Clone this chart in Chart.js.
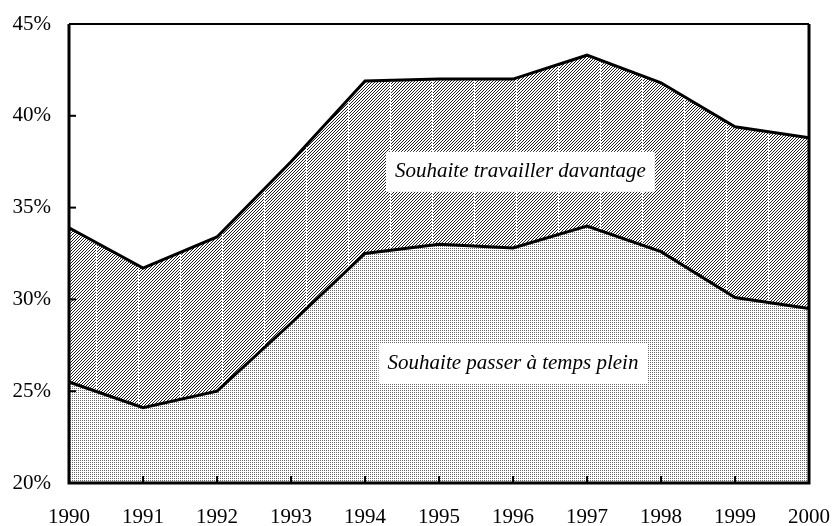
<!DOCTYPE html>
<html>
<head>
<meta charset="utf-8">
<script src="https://cdn.jsdelivr.net/npm/chart.js@4/dist/chart.umd.min.js"></script>
<style>
  html, body { margin: 0; padding: 0; background: #fff; }
  #wrap { width: 834px; height: 526px; position: relative; }
</style>
</head>
<body>
<div id="wrap"><canvas id="c"></canvas></div>
<script>
// Years on the x axis
const years = ['1990', '1991', '1992', '1993', '1994', '1995', '1996', '1997', '1998', '1999', '2000'];

// Lower band: wants to go full time (%)
const tempsPlein = [25.5, 24.1, 25.0, 28.7, 32.5, 33.0, 32.8, 34.0, 32.6, 30.1, 29.5];

// Upper line: total wanting to work more (%)
const davantage = [33.9, 31.7, 33.4, 37.5, 41.9, 42.0, 42.0, 43.3, 41.8, 39.4, 38.8];

const yTicks = [20, 25, 30, 35, 40, 45];

const labelHaut = 'Souhaite travailler davantage';
const labelBas = 'Souhaite passer à temps plein';

const serif = "'Liberation Serif', 'Times New Roman', serif";

// fill textures, drawn on small tiles
function makeHatch() {
    const t = document.createElement('canvas');
    t.width = 42; t.height = 3;
    const g = t.getContext('2d');
    g.fillStyle = '#fff';
    g.fillRect(0, 0, 42, 3);
    g.fillStyle = '#222';
    for (let x = 0; x < 42; x++) {
        for (let y = 0; y < 3; y++) {
            if ((x + y) % 3 === 0 && x !== 12) g.fillRect(x, y, 1, 1);
        }
    }
    return g.createPattern(t, 'repeat');
}

function makeDots() {
    const t = document.createElement('canvas');
    t.width = 2; t.height = 2;
    const g = t.getContext('2d');
    g.fillStyle = '#fff';
    g.fillRect(0, 0, 2, 2);
    g.fillStyle = '#6a6a6a';
    g.fillRect(0, 0, 1, 1);
    return g.createPattern(t, 'repeat');
}

// inward ticks, frame and the two text boxes
const framePlugin = {
    id: 'frame',
    afterDraw(chart) {
        const ctx = chart.ctx;
        const a = chart.chartArea;
        const xs = chart.scales.x;
        const ys = chart.scales.y;
        ctx.save();
        ctx.strokeStyle = '#000';
        ctx.lineWidth = 2;
        xs.ticks.forEach((t, i) => {
            const px = xs.getPixelForTick(i);
            ctx.beginPath();
            ctx.moveTo(px, a.bottom);
            ctx.lineTo(px, a.bottom - 7);
            ctx.stroke();
        });
        ys.ticks.forEach((t, i) => {
            const py = ys.getPixelForTick(i);
            ctx.beginPath();
            ctx.moveTo(a.left, py);
            ctx.lineTo(a.left + 7, py);
            ctx.stroke();
        });
        // frame
        ctx.lineWidth = 3;
        ctx.beginPath();
        ctx.moveTo(a.left, a.top);
        ctx.lineTo(a.left, a.bottom);
        ctx.lineTo(a.right, a.bottom);
        ctx.lineTo(a.right, a.top);
        ctx.stroke();
        ctx.lineWidth = 2;
        ctx.beginPath();
        ctx.moveTo(a.left, a.top);
        ctx.lineTo(a.right, a.top);
        ctx.stroke();

        // text boxes
        ctx.font = 'italic 21px ' + serif;
        ctx.textAlign = 'center';
        ctx.textBaseline = 'middle';
        const boxes = [
            { text: labelHaut, x: xs.getPixelForValue(6.1), y: ys.getPixelForValue(36.95) },
            { text: labelBas, x: xs.getPixelForValue(6.0), y: ys.getPixelForValue(26.5) }
        ];
        boxes.forEach(b => {
            const w = ctx.measureText(b.text).width + 18;
            ctx.fillStyle = '#fff';
            ctx.fillRect(b.x - w / 2, b.y - 20, w, 40);
            ctx.fillStyle = '#000';
            ctx.fillText(b.text, b.x, b.y);
        });
        ctx.restore();
    }
};

new Chart(document.getElementById('c'), {
    type: 'line',
    data: {
        labels: years,
        datasets: [
            {
                label: labelBas,
                data: tempsPlein,
                borderColor: '#000',
                borderWidth: 3,
                backgroundColor: makeDots(),
                fill: 'start',
                pointRadius: 0,
                tension: 0
            },
            {
                label: labelHaut,
                data: davantage,
                borderColor: '#000',
                borderWidth: 3,
                backgroundColor: makeHatch(),
                fill: '-1',
                pointRadius: 0,
                tension: 0
            }
        ]
    },
    options: {
        responsive: true,
        maintainAspectRatio: false,
        animation: false,
        layout: { padding: { top: 24, right: 25, left: 0, bottom: 0 } },
        plugins: {
            legend: { display: false },
            tooltip: { enabled: false }
        },
        scales: {
            x: {
                offset: false,
                grid: { display: false, drawTicks: false },
                border: { display: false },
                ticks: {
                    color: '#000',
                    font: { family: serif, size: 21 },
                    padding: 22,
                    maxRotation: 0,
                    autoSkip: false
                },
                afterFit(s) {
                    s.height = 43;
                    s.paddingLeft = 0;
                    s.paddingRight = 0;
                }
            },
            y: {
                min: yTicks[0],
                max: yTicks[yTicks.length - 1],
                grid: { display: false, drawTicks: false },
                border: { display: false },
                afterBuildTicks(s) { s.ticks = yTicks.map(v => ({ value: v })); },
                ticks: {
                    color: '#000',
                    font: { family: serif, size: 21 },
                    padding: 18,
                    callback: v => v + '%'
                },
                afterFit(s) {
                    s.width = 69;
                    s.paddingTop = 0;
                    s.paddingBottom = 0;
                }
            }
        }
    },
    plugins: [framePlugin]
});
</script>
</body>
</html>
